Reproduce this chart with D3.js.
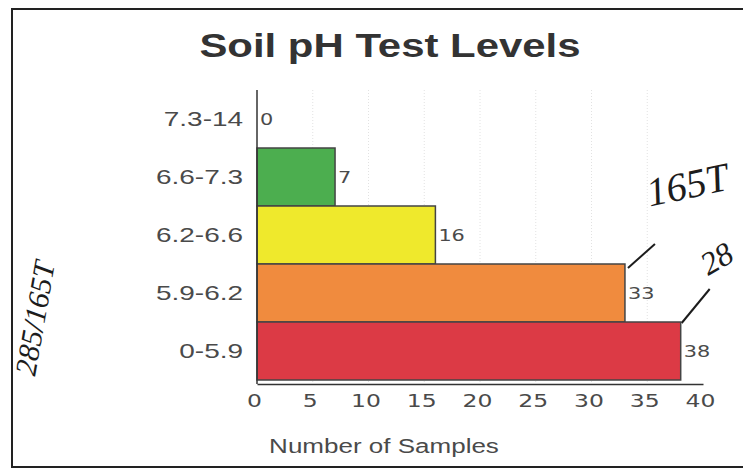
<!DOCTYPE html>
<html>
<head>
<meta charset="utf-8">
<script src="https://cdn.jsdelivr.net/npm/d3@7"></script>
<style>
  html, body { margin: 0; padding: 0; background: #fff; }
  svg { display: block; }
</style>
</head>
<body>
<svg id="chart" width="743" height="472"></svg>
<script>
// ---- data ----
const categories = ["7.3-14", "6.6-7.3", "6.2-6.6", "5.9-6.2", "0-5.9"];
const values = [0, 7, 16, 33, 38];
const xTicks = [0, 5, 10, 15, 20, 25, 30, 35, 40];
const titleText = "Soil pH Test Levels";
const xTitle = "Number of Samples";
const notes = ["165T", "28", "285/165T"];

// ---- styles ----
const barColors = ["#4cae4f", "#4cae4f", "#efe92c", "#f08b3e", "#dc3a45"];
const svg = d3.select("#chart");
svg.append("rect").attr("width", 743).attr("height", 472).attr("fill", "#fff");

const x = d3.scaleLinear().domain([0, 40]).range([257, 703]);
const y = d3.scaleBand().domain(categories).range([90, 380]).padding(0);
const axisY = 384;

function stretch(sel, k) {
  sel.each(function () {
    const w = this.getComputedTextLength();
    this.setAttribute("textLength", w * k);
    this.setAttribute("lengthAdjust", "spacingAndGlyphs");
  });
}

// frame
svg.append("rect").attr("x", 12).attr("y", 9).attr("width", 780).attr("height", 458)
  .attr("fill", "none").attr("stroke", "#222").attr("stroke-width", 2);

// faint gridlines
svg.append("g").selectAll("line").data(xTicks.slice(1, -1)).join("line")
  .attr("x1", d => x(d)).attr("x2", d => x(d))
  .attr("y1", y.range()[0]).attr("y2", axisY)
  .attr("stroke", "#e2e2e2").attr("stroke-width", 1).attr("stroke-dasharray", "1,2");

// title
svg.append("text").attr("x", 390).attr("y", 57).attr("text-anchor", "middle")
  .attr("font-family", "Liberation Sans, Arial, sans-serif").attr("font-weight", "bold")
  .attr("font-size", 33).attr("fill", "#333").text(titleText)
  .call(stretch, 1.27);

// bars
svg.append("g").selectAll("rect").data(values).join("rect")
  .attr("x", x(0))
  .attr("y", (d, i) => y(categories[i]))
  .attr("width", d => x(d) - x(0))
  .attr("height", y.bandwidth())
  .attr("fill", (d, i) => barColors[i])
  .attr("stroke", "#444").attr("stroke-width", 1.5)
  .attr("display", d => d > 0 ? null : "none");

// value labels
svg.append("g").selectAll("text").data(values).join("text")
  .attr("x", d => x(d) + 3)
  .attr("y", (d, i) => y(categories[i]) + y.bandwidth() / 2)
  .attr("dy", "0.36em")
  .attr("font-family", "DejaVu Sans, sans-serif").attr("font-size", 16)
  .attr("fill", "#4a4a4a").text(d => d)
  .call(stretch, 1.3);

// x axis
const gx = svg.append("g").attr("transform", `translate(0,${axisY})`)
  .call(d3.axisBottom(x).tickValues(xTicks).tickSize(0).tickSizeOuter(0).tickPadding(11));
gx.select(".domain").attr("stroke", "#333").attr("stroke-width", 1.5);
gx.selectAll("text").attr("font-family", "DejaVu Sans, sans-serif").attr("font-size", 17)
  .attr("fill", "#4a4a4a").attr("dx", -3).call(stretch, 1.38);

// y axis
const gy = svg.append("g").attr("transform", `translate(${x(0)},0)`)
  .call(d3.axisLeft(y).tickSize(0).tickPadding(14));
gy.select(".domain").remove();
gy.selectAll("text").attr("font-family", "Liberation Sans, Arial, sans-serif").attr("font-size", 21)
  .attr("fill", "#4a4a4a").call(stretch, 1.33);
svg.append("line").attr("x1", x(0)).attr("x2", x(0))
  .attr("y1", y.range()[0]).attr("y2", axisY)
  .attr("stroke", "#333").attr("stroke-width", 1.5);

// x axis title
svg.append("text").attr("x", 384).attr("y", 453).attr("text-anchor", "middle")
  .attr("font-family", "Liberation Sans, Arial, sans-serif").attr("font-size", 20)
  .attr("fill", "#4a4a4a").text(xTitle).call(stretch, 1.3);

// handwritten annotations
const hand = svg.append("g").attr("fill", "#1c1c1c")
  .attr("font-family", "Liberation Serif, serif").attr("font-style", "italic");
hand.append("line").attr("x1", x(values[3]) + 3).attr("y1", y(categories[3]) + 4)
  .attr("x2", x(values[3]) + 30).attr("y2", y(categories[3]) - 20)
  .attr("stroke", "#1c1c1c").attr("stroke-width", 2);
hand.append("line").attr("x1", x(values[4]) + 1).attr("y1", y(categories[4]) + 1)
  .attr("x2", x(values[4]) + 29).attr("y2", y(categories[4]) - 33)
  .attr("stroke", "#1c1c1c").attr("stroke-width", 2);
hand.append("text").attr("transform", "translate(690,198) rotate(-12)")
  .attr("text-anchor", "middle").attr("font-size", 40).text(notes[0]);
hand.append("text").attr("transform", "translate(722,268) rotate(-30)")
  .attr("text-anchor", "middle").attr("font-size", 32).text(notes[1]);
hand.append("text").attr("transform", "translate(45,320) rotate(-80)")
  .attr("text-anchor", "middle").attr("font-size", 30).text(notes[2]);
</script>
</body>
</html>
